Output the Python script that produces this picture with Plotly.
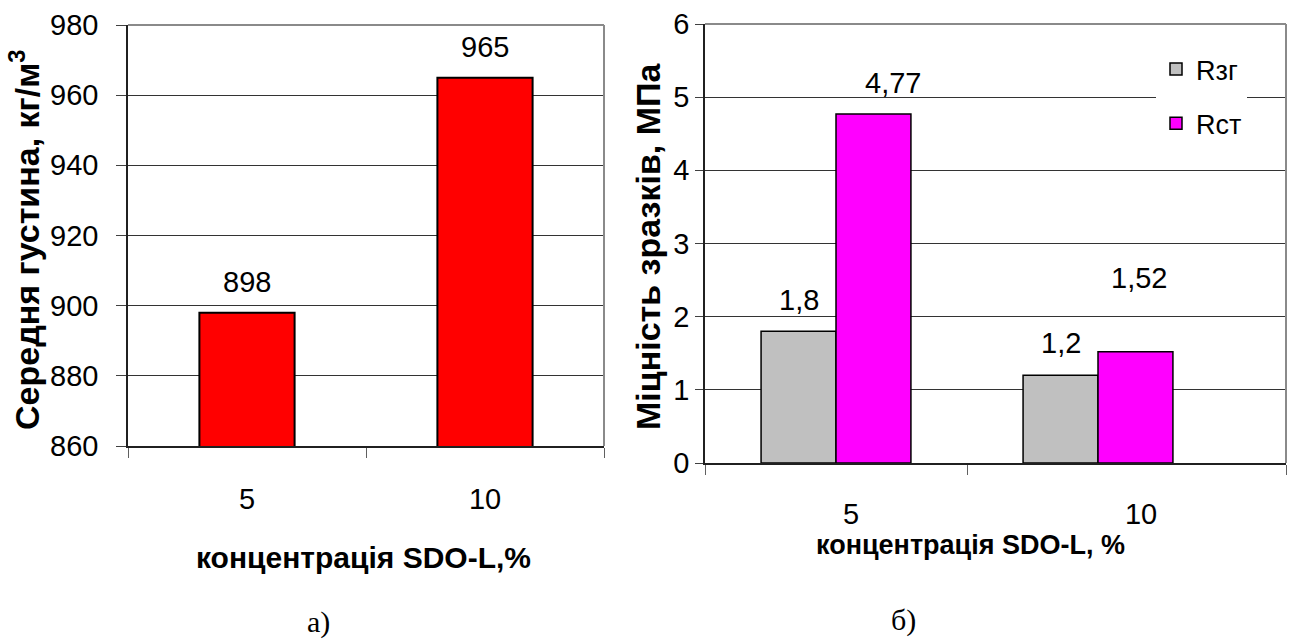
import plotly.graph_objects as go

# ---- data ----
conc_labels = ["5", "10"]
density = [898, 965]            # середня густина, кг/м3
r_zg = [1.8, 1.2]               # міцність на згин, МПа
r_st = [4.77, 1.52]             # міцність на стиск, МПа
density_txt = ["898", "965"]
r_zg_txt = ["1,8", "1,2"]
r_st_txt = ["4,77", "1,52"]
density_ticks = [860, 880, 900, 920, 940, 960, 980]

W, H = 1292, 639
SANS = "Liberation Sans, Arial, sans-serif"
SERIF = "Liberation Serif, Times New Roman, serif"

def px_x(p):
    return p / W

def px_y(p):
    return 1 - p / H

# plot areas in pixels
L_X0, L_X1, L_Y0, L_Y1 = 128, 604, 25, 446
R_X0, R_X1, R_Y0, R_Y1 = 705, 1286, 24, 463
R_CAT = 262.0                                   # px per category on right chart
R_RANGE = [-0.5, -0.5 + (R_X1 - R_X0) / R_CAT]
# tick-label centres on the right chart (even split of the full width)
r_lab_pos = [R_RANGE[0] + (851 - R_X0) / R_CAT, R_RANGE[0] + (1141 - R_X0) / R_CAT]

xpos = list(range(len(conc_labels)))
bw = 0.286

fig = go.Figure()
fig.add_trace(go.Bar(x=xpos, y=density, width=0.40, marker=dict(color="#FF0000", line=dict(color="#000000", width=2)),
                     showlegend=False, xaxis="x", yaxis="y"))
fig.add_trace(go.Bar(x=xpos, y=r_zg, width=bw, offset=-bw, name="Rзг", legendgroup="a",
                     marker=dict(color="#C0C0C0", line=dict(color="#000000", width=1.5)),
                     xaxis="x2", yaxis="y2"))
fig.add_trace(go.Bar(x=xpos, y=r_st, width=bw, offset=0, name="Rст", legendgroup="b",
                     marker=dict(color="#FF00FF", line=dict(color="#000000", width=1.5)),
                     xaxis="x2", yaxis="y2"))

grid = "#333333"
axis_common = dict(showline=True, linecolor="#202020", linewidth=1.5, zeroline=False, automargin=False)
TICK = dict(size=29, family=SANS, color="#000000")

fig.update_layout(
    width=W, height=H, margin=dict(l=0, r=0, t=0, b=0, autoexpand=False),
    paper_bgcolor="white", plot_bgcolor="white",
    barmode="overlay",
    font=dict(family=SANS, size=29, color="#000000"),
    xaxis=dict(domain=[px_x(L_X0), px_x(L_X1)], range=[-0.5, 1.5], anchor="y",
               tickvals=xpos, ticktext=conc_labels, ticks="", ticklabelstandoff=26,
               showgrid=False, tickfont=TICK,
               minor=dict(tickvals=[-0.5, 0.5, 1.5], ticks="outside", ticklen=10, tickcolor="#606060", showgrid=False),
               **axis_common),
    # long transparent major ticks keep the labels clear; short minor ticks are the visible marks
    yaxis=dict(domain=[px_y(L_Y1), px_y(L_Y0)], range=[860, 980], tickvals=density_ticks, anchor="x",
               ticks="outside", ticklen=22, tickcolor="rgba(0,0,0,0)",
               showgrid=True, gridcolor=grid, gridwidth=1,
               minor=dict(tickvals=density_ticks, ticks="outside", ticklen=10, tickcolor="#404040", showgrid=False),
               tickfont=TICK, **axis_common),
    xaxis2=dict(domain=[px_x(R_X0), px_x(R_X1)], range=R_RANGE, anchor="y2",
                tickvals=r_lab_pos, ticktext=conc_labels, ticks="", ticklabelstandoff=24,
                showgrid=False, tickfont=TICK,
                minor=dict(tickvals=[-0.5, 0.5, R_RANGE[1]], ticks="outside", ticklen=10, tickcolor="#606060", showgrid=False),
                **axis_common),
    yaxis2=dict(domain=[px_y(R_Y1), px_y(R_Y0)], range=[0, 6], dtick=1, anchor="x2",
                ticks="outside", ticklen=8, tickcolor="#404040",
                showgrid=True, gridcolor=grid, gridwidth=1,
                tickfont=TICK, **axis_common),
    legend=dict(x=px_x(1156), y=px_y(45), xanchor="left", yanchor="top",
                bgcolor="white", borderwidth=0, tracegroupgap=16,
                font=dict(size=27, family=SANS), itemwidth=30),
)

# gray frame on top and right of each plot area
for xr, yr in (("x", "y"), ("x2", "y2")):
    fig.add_shape(type="line", xref=f"{xr} domain", yref=f"{yr} domain", x0=0, x1=1, y0=1, y1=1,
                  line=dict(color="#8a8a8a", width=2), layer="above")
    fig.add_shape(type="line", xref=f"{xr} domain", yref=f"{yr} domain", x0=1, x1=1, y0=0, y1=1,
                  line=dict(color="#8a8a8a", width=2), layer="above")

LBL = dict(size=29, family=SANS, color="#000000")

# value labels above bars
ann = []
for i, (v, t) in enumerate(zip(density, density_txt)):
    ann.append(dict(x=xpos[i], y=v, xref="x", yref="y", text=t, showarrow=False,
                    xanchor="center", yanchor="middle", yshift=31, font=LBL))
zg_shift = [(0, 31), (0, 32)]
st_shift = [(20, 31), (4, 74)]
for i, (v, t) in enumerate(zip(r_zg, r_zg_txt)):
    ann.append(dict(x=xpos[i] - bw / 2, y=v, xref="x2", yref="y2", text=t, showarrow=False,
                    xanchor="center", yanchor="middle",
                    xshift=zg_shift[i][0], yshift=zg_shift[i][1], font=LBL))
for i, (v, t) in enumerate(zip(r_st, r_st_txt)):
    ann.append(dict(x=xpos[i] + bw / 2, y=v, xref="x2", yref="y2", text=t, showarrow=False,
                    xanchor="center", yanchor="middle",
                    xshift=st_shift[i][0], yshift=st_shift[i][1], font=LBL))

# axis titles and panel captions
def paper_text(x, y, text, size, family, angle=0):
    return dict(x=px_x(x), y=px_y(y), xref="paper", yref="paper", text=text, textangle=angle,
                xanchor="center", yanchor="middle", showarrow=False,
                font=dict(size=size, family=family, color="#000000"))

ann += [
    paper_text(24, 240, "<b>Середня густина, кг/м<sup>3</sup></b>", 34, SANS, -90),
    paper_text(648, 247, "<b>Міцність зразків, МПа</b>", 34, SANS, -90),
    paper_text(364, 557, "<b>концентрація SDO-L,%</b>", 30, SANS),
    paper_text(970, 545, "<b>концентрація SDO-L, %</b>", 27, SANS),
    paper_text(318, 622, "а)", 30, SERIF),
    paper_text(903, 620, "б)", 30, SERIF),
]
fig.update_layout(annotations=ann)

fig.write_html("out.html")
